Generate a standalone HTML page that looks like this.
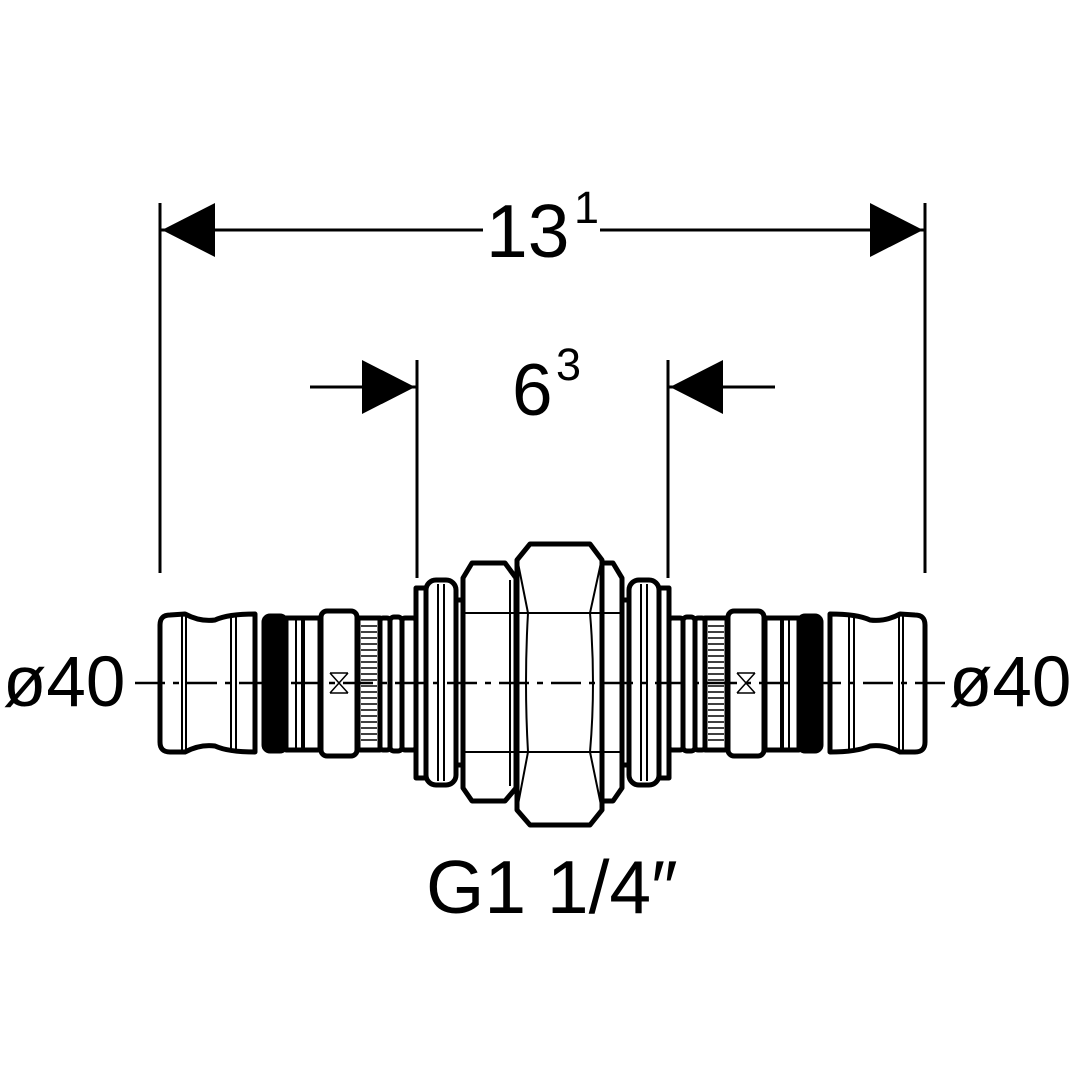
<!DOCTYPE html>
<html><head><meta charset="utf-8"><style>html,body{margin:0;padding:0;background:#fff}svg{display:block}</style></head>
<body>
<svg width="1080" height="1080" viewBox="0 0 1080 1080" xmlns="http://www.w3.org/2000/svg" font-family="Liberation Sans, sans-serif">
<g stroke="#000" fill="none">
<line x1="160" y1="203" x2="160" y2="573" stroke-width="3"/>
<line x1="925" y1="203" x2="925" y2="573" stroke-width="3"/>
<line x1="160" y1="230" x2="483" y2="230" stroke-width="3"/>
<line x1="600" y1="230" x2="925" y2="230" stroke-width="3"/>
<line x1="417" y1="360" x2="417" y2="578" stroke-width="3"/>
<line x1="668" y1="360" x2="668" y2="578" stroke-width="3"/>
<line x1="310" y1="387" x2="417" y2="387" stroke-width="3"/>
<line x1="668" y1="387" x2="775" y2="387" stroke-width="3"/>
</g>
<g fill="#000">
<polygon points="162,230 215,203 215,257"/>
<polygon points="923,230 870,203 870,257"/>
<polygon points="415,387 362,360 362,414"/>
<polygon points="670,387 723,360 723,414"/>
</g>
<text x="486" y="257" font-size="75">13</text>
<text x="574" y="223" font-size="45">1</text>
<text x="512" y="415" font-size="73">6</text>
<text x="556" y="380" font-size="45">3</text>
<text x="3" y="706" font-size="71">ø40</text>
<text x="949" y="706" font-size="71">ø40</text>
<text x="426" y="913" font-size="75">G1 1/4″</text>

<g id="L" stroke="#000" fill="#fff" stroke-width="5" stroke-linejoin="round">
<path d="M160,625 Q160,615 170,615 L185,614 Q200,622 215,620 Q228,614 255,614 L255,752 Q228,752 215,746 Q200,744 185,752 L170,752 Q160,752 160,742 Z"/>
<line x1="182" y1="616" x2="182" y2="750" stroke-width="2"/>
<line x1="186" y1="616" x2="186" y2="750" stroke-width="2"/>
<line x1="231" y1="616" x2="231" y2="750" stroke-width="2"/>
<line x1="236" y1="616" x2="236" y2="750" stroke-width="2"/>
<rect x="264" y="616" width="22" height="135" rx="6" fill="#000"/>
<rect x="286" y="618" width="34" height="132"/>
<line x1="296" y1="620" x2="296" y2="748" stroke-width="2"/>
<line x1="303" y1="620" x2="303" y2="748" stroke-width="4"/>
<rect x="321" y="611" width="36" height="145" rx="6"/>
<path d="M330,673 L348,673 M330,693 L348,693 M330,673 L348,693 M348,673 L330,693" stroke-width="1.5"/>
<rect x="358" y="618" width="22" height="132"/>
<g stroke-width="1.6"><path d="M361,626h16M361,632h16M361,638h16M361,644h16M361,650h16M361,656h16M361,662h16M361,668h16M361,674h16M361,680h16M361,686h16M361,692h16M361,698h16M361,704h16M361,710h16M361,716h16M361,722h16M361,728h16M361,734h16M361,740h16"/></g>
<rect x="380" y="618" width="10" height="132" rx="3"/>
<rect x="390" y="617" width="12" height="134" rx="4"/>
<rect x="402" y="618" width="14" height="132" rx="3"/>
<rect x="416" y="588" width="10" height="190"/>
<rect x="426" y="580" width="30" height="205" rx="10"/>
<line x1="438" y1="584" x2="438" y2="781" stroke-width="2"/>
<line x1="444" y1="584" x2="444" y2="781" stroke-width="2"/>
<rect x="456" y="600" width="7" height="165"/>
<path d="M472,563 L505,563 L516,578 L516,788 L505,801 L472,801 L463,788 L463,578 Z"/>
<line x1="463" y1="613" x2="516" y2="613" stroke-width="2"/>
<line x1="463" y1="752" x2="516" y2="752" stroke-width="2"/>
<line x1="510" y1="580" x2="510" y2="786" stroke-width="2"/>
</g>
<use href="#L" transform="translate(1085,0) scale(-1,1)"/>
<g stroke="#000" fill="#fff" stroke-width="5" stroke-linejoin="round">
<path d="M530,544 L590,544 L602,560 L602,810 L590,825 L530,825 L517,810 L517,560 Z"/>
<line x1="517" y1="613" x2="602" y2="613" stroke-width="2"/>
<line x1="517" y1="752" x2="602" y2="752" stroke-width="2"/>
<path d="M517,558 L528,613 Q524,683 528,752 L517,810" stroke-width="2" fill="none"/>
<path d="M602,558 L590,613 Q596,683 590,752 L602,810" stroke-width="2" fill="none"/>
</g>
<line x1="135" y1="683" x2="948" y2="683" stroke="#000" stroke-width="2.5" stroke-dasharray="30,8,6,8"/>
</svg>
</body></html>
